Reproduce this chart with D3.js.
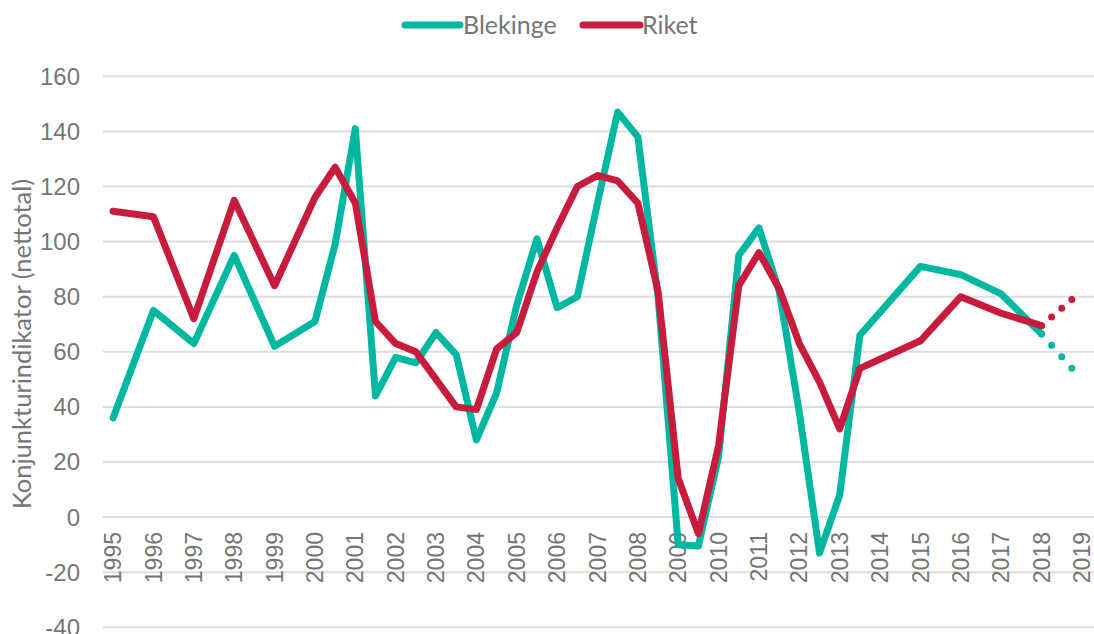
<!DOCTYPE html>
<html>
<head>
<meta charset="utf-8">
<script src="https://cdn.jsdelivr.net/npm/d3@7"></script>
<style>
    body { margin: 0; background: #fff; }
    svg text { fill: #767676; }
</style>
</head>
<body>
<div id="graph"></div>
<script>
// half-year periods where the lines break
var periods = [1995, 1996, 1997, 1998, 1999, 2000, 2000.5, 2001, 2001.5, 2002, 2002.5,
    2003, 2003.5, 2004, 2004.5, 2005, 2005.5, 2006, 2006.5, 2007, 2007.5, 2008, 2008.5,
    2009, 2009.5, 2010, 2010.5, 2011, 2011.5, 2012, 2012.5, 2013, 2013.5, 2015, 2016, 2017, 2018];

var blekinge = [36, 75, 63, 95, 62, 71, 99, 141, 44, 58, 56,
    67, 59, 28, 45, 77, 101, 76, 80, 114, 147, 138, 80,
    -10, -10.5, 22, 95, 105, 82, 38, -13, 8, 66, 91, 88, 81, 66.5];

var riket = [111, 109, 72, 115, 84, 116, 127, 114, 71, 63, 60,
    50, 40, 39, 61, 67, 89, 105, 120, 124, 122, 114, 82,
    14, -6, 26, 84, 96, 83, 63, 49, 32, 54, 64, 80, 74, 69.5];

// dotted forecast part
var forecastPeriods = [2018, 2018.75];
var blekingeForecast = [66.5, 54];
var riketForecast = [69.5, 79];

var years = d3.range(1995, 2020);
var yTicks = [-40, -20, 0, 20, 40, 60, 80, 100, 120, 140, 160];

var seriesNames = ['Blekinge', 'Riket'];

var width = 1094,
    height = 634;

var colors = { Blekinge: '#00b8a1', Riket: '#c81c3e' };

var svg = d3.select('#graph')
    .append('svg')
    .attr('width', width)
    .attr('height', height);

var x = d3.scaleLinear()
    .domain([1994.75, 2019.25])
    .range([103, 1092]);

var y = d3.scaleLinear()
    .domain([-40, 160])
    .range([627.3, 76.3]);

// grid lines
svg.append('g')
    .selectAll('line')
    .data(yTicks)
    .enter()
    .append('line')
    .attr('x1', 103)
    .attr('x2', width)
    .attr('y1', function(d) { return y(d); })
    .attr('y2', function(d) { return y(d); })
    .attr('stroke', '#dedede')
    .attr('stroke-width', 2);

// y tick labels
svg.append('g')
    .selectAll('text')
    .data(yTicks)
    .enter()
    .append('text')
    .attr('x', 80)
    .attr('y', function(d) { return y(d); })
    .attr('dy', '0.35em')
    .attr('text-anchor', 'end')
    .style('font-family', 'Liberation Sans, Arial, sans-serif')
    .style('font-size', '24px')
    .text(function(d) { return d; });

// x tick labels, rotated
svg.append('g')
    .selectAll('text')
    .data(years)
    .enter()
    .append('text')
    .attr('transform', function(d) { return 'translate(' + x(d) + ',532) rotate(-90)'; })
    .attr('dy', '0.35em')
    .attr('text-anchor', 'end')
    .style('font-family', 'Liberation Sans, Arial, sans-serif')
    .style('font-size', '23px')
    .text(function(d) { return d; });

// axis title
svg.append('text')
    .attr('transform', 'translate(22,344) rotate(-90)')
    .attr('dy', '0.35em')
    .attr('text-anchor', 'middle')
    .style('font-family', 'Lato, sans-serif')
    .style('font-size', '25.5px')
    .text('Konjunkturindikator (nettotal)');

var line = d3.line()
    .x(function(d) { return x(d[0]); })
    .y(function(d) { return y(d[1]); });

function pairs(xs, vs) {
    return xs.map(function(p, i) { return [p, vs[i]]; });
}

var main = { Blekinge: pairs(periods, blekinge), Riket: pairs(periods, riket) };
var forecast = {
    Blekinge: pairs(forecastPeriods, blekingeForecast),
    Riket: pairs(forecastPeriods, riketForecast)
};

seriesNames.forEach(function(name) {
    svg.append('path')
        .attr('d', line(main[name]))
        .attr('fill', 'none')
        .attr('stroke', colors[name])
        .attr('stroke-width', 7)
        .attr('stroke-linejoin', 'round')
        .attr('stroke-linecap', 'round');

    var dotted = svg.append('path')
        .attr('d', line(forecast[name]))
        .attr('fill', 'none')
        .attr('stroke', colors[name])
        .attr('stroke-width', 7)
        .attr('stroke-linecap', 'round');
    // three dots after the solid end
    var len = dotted.node().getTotalLength();
    dotted.attr('stroke-dasharray', '0 ' + (len / 3 - 0.01));
});

// legend
var legendPos = [{ x1: 405, x2: 460, tx: 463 }, { x1: 583, x2: 640, tx: 642 }];
var legend = svg.append('g')
    .selectAll('g')
    .data(seriesNames)
    .enter()
    .append('g');

legend.append('line')
    .attr('x1', function(d, i) { return legendPos[i].x1; })
    .attr('x2', function(d, i) { return legendPos[i].x2; })
    .attr('y1', 25)
    .attr('y2', 25)
    .attr('stroke', function(d) { return colors[d]; })
    .attr('stroke-width', 7)
    .attr('stroke-linecap', 'round');

legend.append('text')
    .attr('x', function(d, i) { return legendPos[i].tx; })
    .attr('y', 25)
    .attr('dy', '0.35em')
    .style('font-family', 'Lato, sans-serif')
    .style('font-size', '25px')
    .text(function(d) { return d; });
</script>
</body>
</html>
